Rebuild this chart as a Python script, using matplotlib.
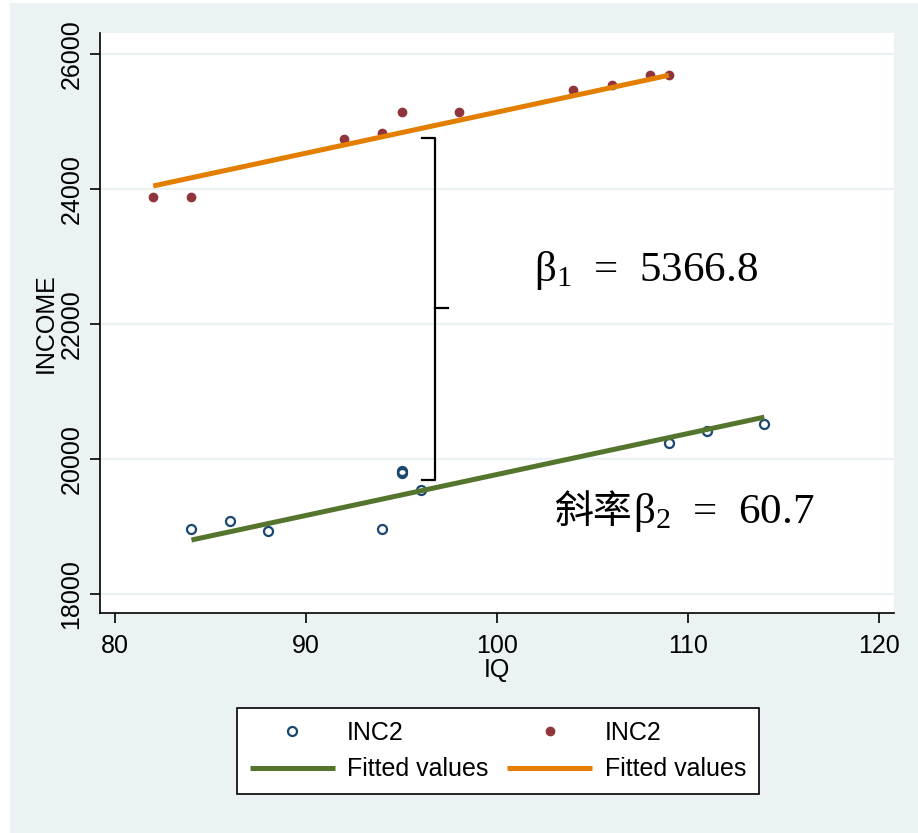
import matplotlib
matplotlib.use('Agg')
import matplotlib.pyplot as plt
from matplotlib.patches import Rectangle

# data
iq_low = [84, 86, 88, 94, 95, 95, 96, 109, 111, 114]
inc_low = [18960, 19080, 18930, 18970, 19820, 19800, 19540, 20240, 20410, 20520]
iq_high = [82, 84, 92, 94, 95, 98, 104, 106, 108, 109]
inc_high = [23880, 23880, 24740, 24830, 25140, 25140, 25470, 25540, 25690, 25690]
fit_low_x = [84, 114]
fit_low_y = [18800, 20620]
fit_high_x = [82, 109]
fit_high_y = [24045, 25685]
xticks = [80, 90, 100, 110, 120]
yticks = [18000, 20000, 22000, 24000, 26000]
# brace between the two lines (x, top, middle, bottom)
brace_x = 96.75
brace_y = [24760, 22240, 19690]

bg = '#eaf2f3'
navy = '#1a476f'
maroon = '#90353b'
green = '#55752f'
orange = '#e37e00'

plt.rcParams['font.family'] = ['Liberation Sans', 'DejaVu Sans']
plt.rcParams['mathtext.default'] = 'regular'

fig = plt.figure(figsize=(9.18, 8.33), dpi=100, facecolor='white')
fig.patches.append(Rectangle((10 / 918, 0), 1, 1 - 3 / 833, transform=fig.transFigure,
                             facecolor=bg, edgecolor='none', zorder=-10))
ax = fig.add_axes([100 / 918, 1 - 612.7 / 833, 794 / 918, 579.7 / 833])
ax.set_facecolor('white')

ax.plot(iq_low, inc_low, linestyle='none', marker='o', markersize=6.5,
        markerfacecolor='none', markeredgecolor=navy, markeredgewidth=1.6, label='INC2')
ax.plot(fit_low_x, fit_low_y, color=green, lw=3.6, label='Fitted values', solid_capstyle='butt')
ax.plot(iq_high, inc_high, linestyle='none', marker='o', markersize=6,
        color=maroon, label='INC2')
ax.plot(fit_high_x, fit_high_y, color=orange, lw=3.6, label='Fitted values', solid_capstyle='butt')

# curly brace
ax.plot([brace_x - 0.68, brace_x, brace_x, brace_x - 0.68],
        [brace_y[0], brace_y[0], brace_y[2], brace_y[2]], color='black', lw=1.6)
ax.plot([brace_x, brace_x + 0.68], [brace_y[1], brace_y[1]], color='black', lw=1.6)

ax.text(101.95, 22637, r'β$_1$  =  5366.8', fontsize=31, va='baseline', ha='left',
        family=['Liberation Serif', 'DejaVu Serif'])
ax.text(107.12, 19052, r'β$_2$  =  60.7', fontsize=31, va='baseline', ha='left',
        family=['Liberation Serif', 'DejaVu Serif'])
ax.text(107.05, 19052, '斜率', fontsize=28, va='baseline', ha='right',
        family=['Noto Sans CJK SC', 'DejaVu Sans'])

ax.set_xlim(79.21, 120.79)
ax.set_ylim(17723, 26311)
ax.set_xticks(xticks)
ax.set_yticks(yticks)
ax.yaxis.grid(True, color=bg, lw=1.6)
ax.set_axisbelow(True)
for s in ['top', 'right']:
    ax.spines[s].set_visible(False)
for s in ['left', 'bottom']:
    ax.spines[s].set_linewidth(1.2)
ax.tick_params(direction='out', length=7, width=1.2, labelsize=18)
ax.tick_params(axis='y', pad=5)
ax.tick_params(axis='x', pad=8)
plt.setp(ax.get_yticklabels(), rotation=90, va='center')
ax.set_xlabel('IQ', fontsize=18, labelpad=0)
ax.set_ylabel('INCOME', fontsize=18, labelpad=1)

leg = ax.legend(ncol=2, loc='center', bbox_to_anchor=(498 / 918, 1 - 751 / 833),
                bbox_transform=fig.transFigure, fontsize=18, numpoints=1,
                handlelength=3.4, handletextpad=0.5, columnspacing=0.75,
                labelspacing=0.5, borderpad=0.5, fancybox=False, framealpha=1)
leg.get_frame().set_edgecolor('black')
leg.get_frame().set_linewidth(1.2)

fig.savefig('out.png', dpi=100, facecolor=fig.get_facecolor())
